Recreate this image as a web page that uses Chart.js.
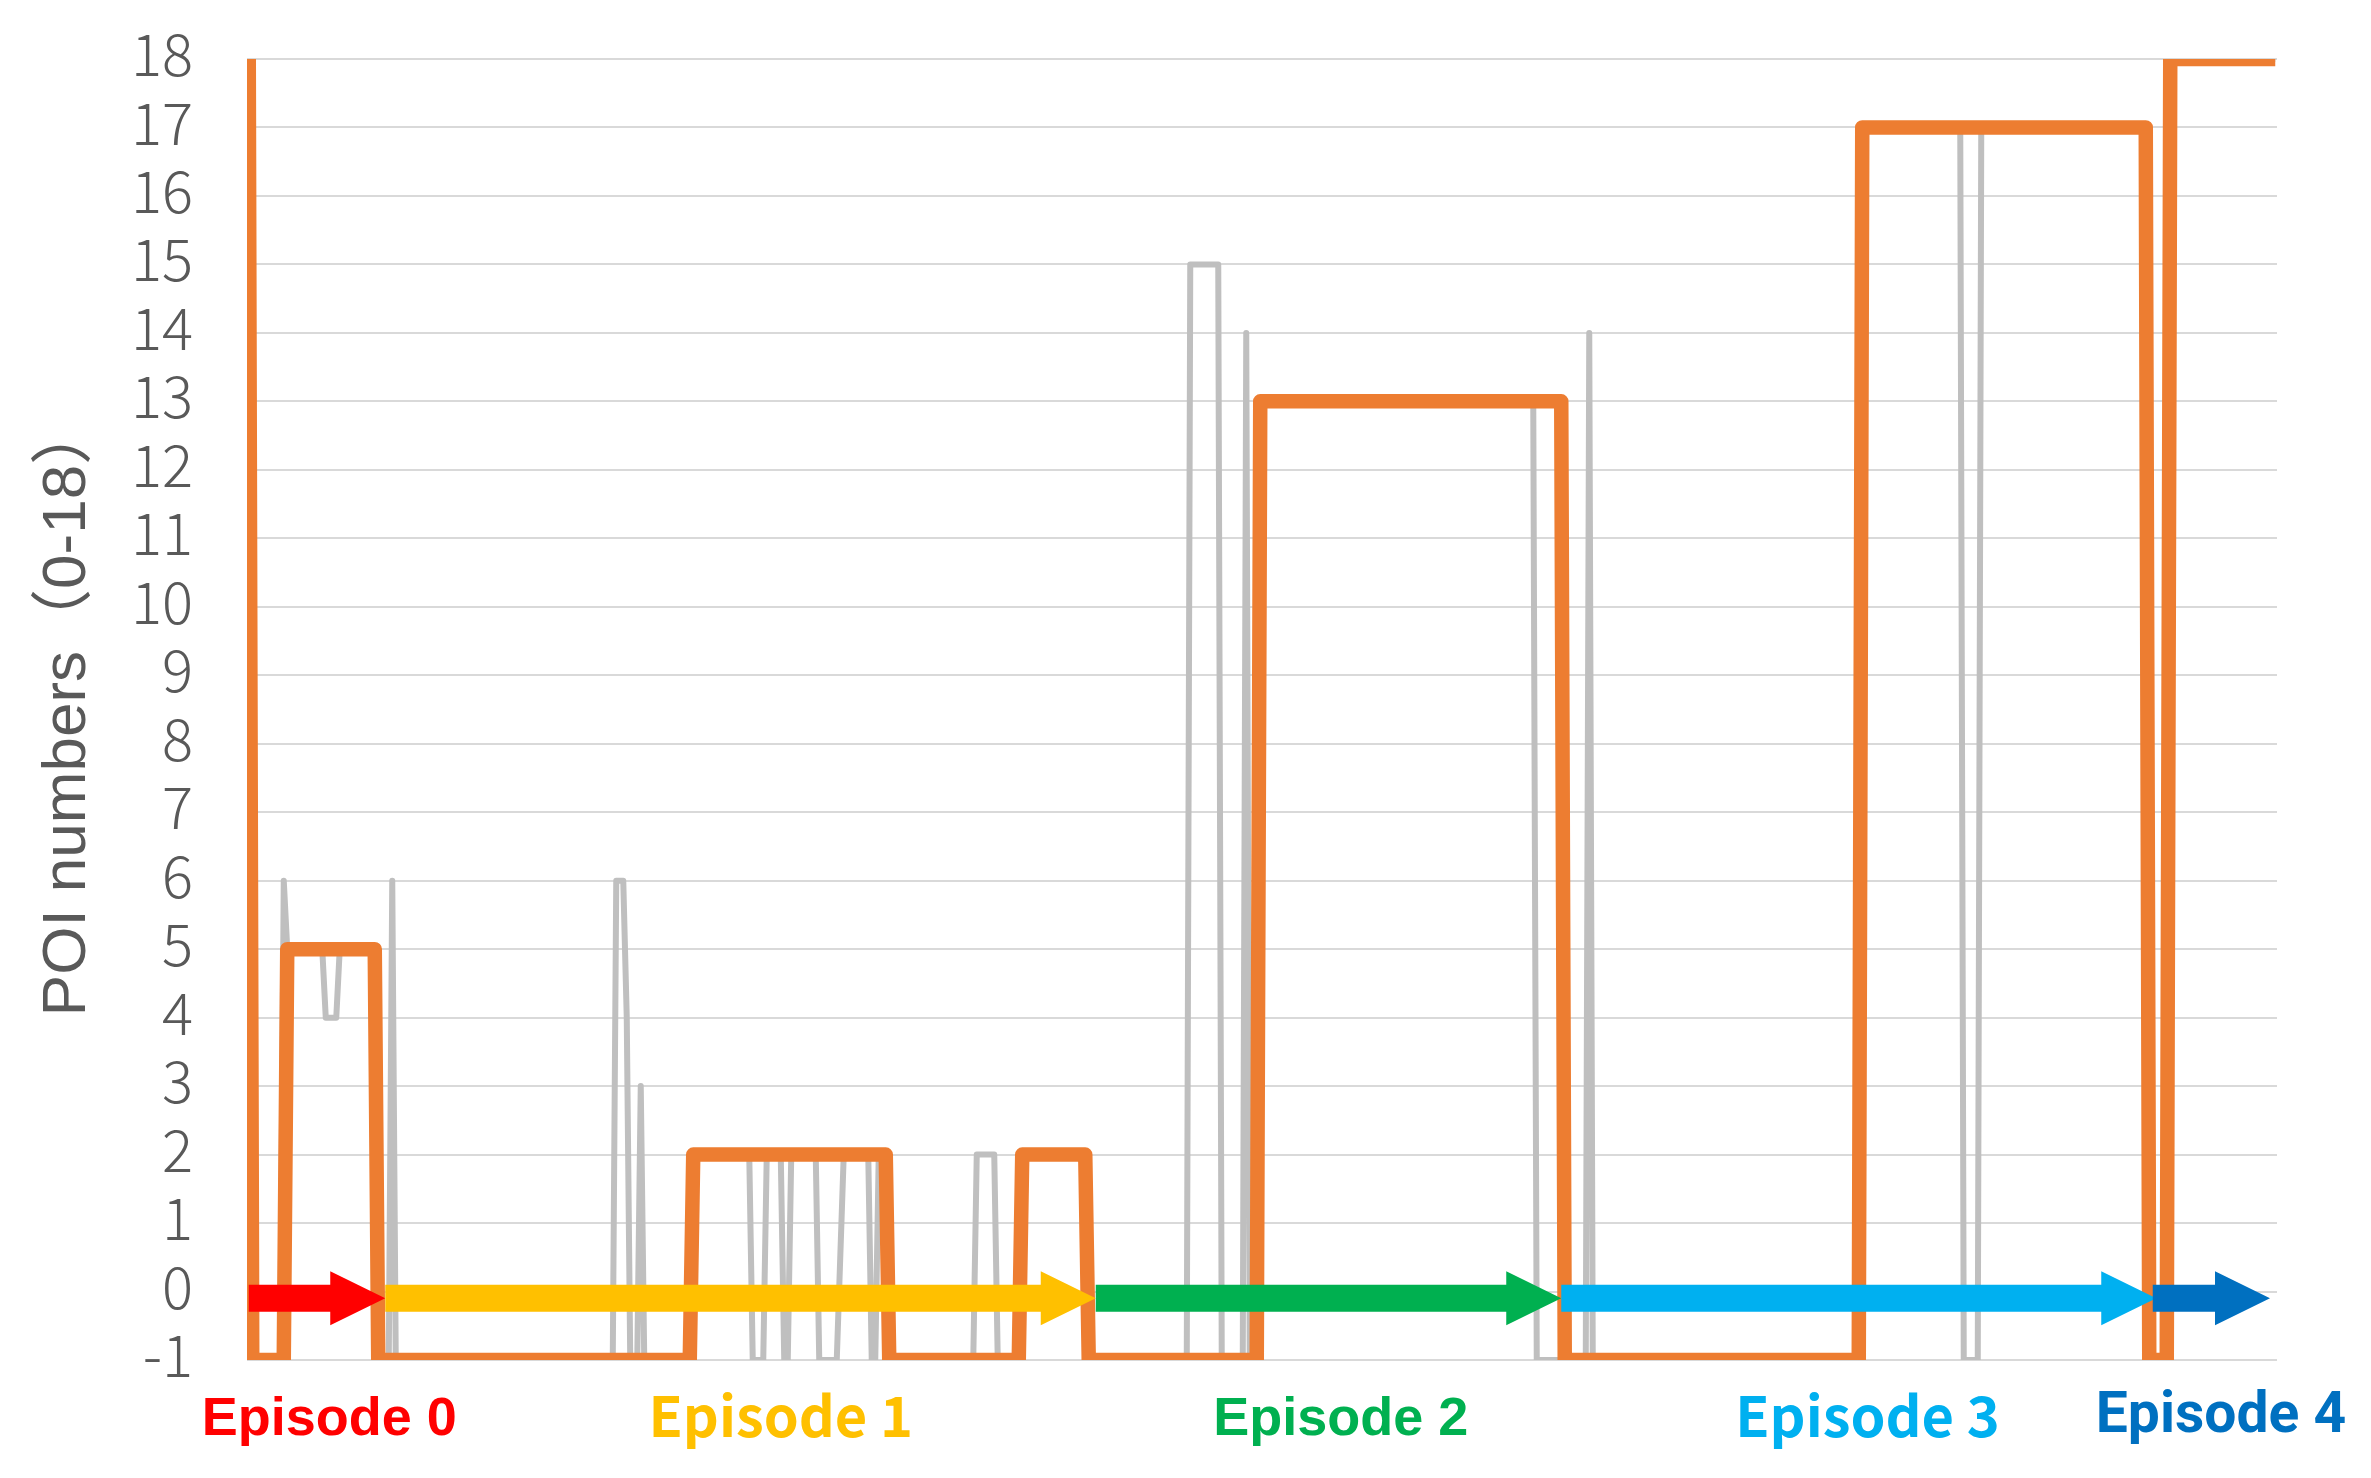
<!DOCTYPE html>
<html>
<head>
<meta charset="utf-8">
<script src="https://cdn.jsdelivr.net/npm/chart.js@4.4.1/dist/chart.umd.min.js"></script>
<style>
  html, body { margin: 0; padding: 0; background: #ffffff; }
  #wrap { width: 2371px; height: 1478px; position: relative; }
</style>
</head>
<body>
<div id="wrap"><canvas id="c"></canvas></div>
<script>
// ---- data (time step index, POI number) ----
const orangeT = [0, 1, 10, 11, 36, 37, 126, 127, 182, 183, 220, 221, 239, 240, 288, 289, 375, 376, 460, 461, 542, 543, 548, 549, 579];
const orangeY = [18, -1, -1, 5, 5, -1, -1, 2, 2, -1, -1, 2, 2, -1, -1, 13, 13, -1, -1, 17, 17, -1, -1, 18, 18];

const grayT = [0, 9, 10, 11, 21, 22, 25, 26, 36, 37, 40, 41, 42, 104, 105, 107, 108, 109, 111, 112, 113,
  126, 127, 143, 144, 147, 148, 152, 153, 154, 155, 162, 163, 168, 170, 177, 178, 179, 180, 182, 183,
  207, 208, 213, 214, 220, 221, 239, 240, 268, 269, 277, 278, 284, 285, 286, 288, 289, 367, 368,
  382, 383, 384, 460, 461, 489, 490, 494, 495, 542, 543, 548, 549, 579];
const grayY = [-1, -1, 6, 5, 5, 4, 4, 5, 5, -1, -1, 6, -1, -1, 6, 6, 4, -1, -1, 3, -1,
  -1, 2, 2, -1, -1, 2, 2, -1, -1, 2, 2, -1, -1, 2, 2, -1, -1, 2, 2, -1,
  -1, 2, 2, -1, -1, 2, 2, -1, -1, 15, 15, -1, -1, 14, -1, -1, 13, 13, -1,
  -1, 14, -1, -1, 17, 17, -1, -1, 17, 17, -1, -1, 18, 18];

const yTicks = [-1, 0, 1, 2, 3, 4, 5, 6, 7, 8, 9, 10, 11, 12, 13, 14, 15, 16, 17, 18];

const episodeNames = ['Episode 0', 'Episode 1', 'Episode 2', 'Episode 3', 'Episode 4'];
const episodeStart = [0, 39, 242, 375, 544];
const episodeEnd = [39, 242, 375, 545, 577.5];
const episodeColors = ['#FF0000', '#FFC000', '#00B050', '#00B0F0', '#0070C0'];

const toPoints = (ts, ys) => ts.map((t, i) => ({ x: t, y: ys[i] }));

const episodePlugin = {
  id: 'episodes',
  afterDatasetsDraw(chart, args, opts) {
    const ctx = chart.ctx, xs = chart.scales.x, ys = chart.scales.y;
    const yc = ys.getPixelForValue(opts.arrowValue);
    ctx.save();
    episodeStart.forEach((s, i) => {
      const x0 = xs.getPixelForValue(s), x1 = xs.getPixelForValue(episodeEnd[i]);
      const hb = x1 - opts.headLength;
      ctx.beginPath();
      ctx.moveTo(x0, yc - opts.shaftHalf);
      ctx.lineTo(hb, yc - opts.shaftHalf);
      ctx.lineTo(hb, yc - opts.headHalf);
      ctx.lineTo(x1, yc);
      ctx.lineTo(hb, yc + opts.headHalf);
      ctx.lineTo(hb, yc + opts.shaftHalf);
      ctx.lineTo(x0, yc + opts.shaftHalf);
      ctx.closePath();
      ctx.fillStyle = episodeColors[i];
      ctx.fill();
    });
    const baseY = chart.chartArea.bottom + opts.labelOffset;
    ctx.textAlign = 'center';
    ctx.textBaseline = 'alphabetic';
    episodeNames.forEach((name, i) => {
      ctx.font = opts.labelFonts[i];
      ctx.fillStyle = episodeColors[i];
      ctx.fillText(name, xs.getPixelForValue(opts.labelX[i]), baseY + opts.labelDy[i]);
    });
    ctx.restore();
  }
};

new Chart(document.getElementById('c'), {
  type: 'line',
  data: {
    datasets: [
      {
        label: 'estimated',
        data: toPoints(orangeT, orangeY),
        borderColor: '#ED7D31',
        borderWidth: 14.5,
        borderJoinStyle: 'round',
        borderCapStyle: 'butt',
        pointRadius: 0,
        tension: 0,
        order: 1
      },
      {
        label: 'observed',
        data: toPoints(grayT, grayY),
        borderColor: '#BFBFBF',
        borderWidth: 6,
        borderJoinStyle: 'round',
        pointRadius: 0,
        tension: 0,
        order: 2
      }
    ]
  },
  options: {
    responsive: true,
    maintainAspectRatio: false,
    devicePixelRatio: 1,
    animation: false,
    events: [],
    layout: { padding: { left: 0, right: 94, top: 59, bottom: 118 } },
    plugins: {
      legend: { display: false },
      tooltip: { enabled: false },
      episodes: {
        arrowValue: -0.1,
        shaftHalf: 13.5,
        headHalf: 27,
        headLength: 55,
        labelOffset: 75,
        labelX: [23, 152, 312, 462.5, 563.5],
        labelDy: [0, 2, 0, 2, -3],
        labelFonts: [
          'bold 54px "Liberation Sans"',
          'bold 56px "Noto Sans CJK JP"',
          'bold 54px "Liberation Sans"',
          'bold 56px "Noto Sans CJK JP"',
          'bold 57px Roboto'
        ]
      }
    },
    scales: {
      x: {
        type: 'linear',
        min: -0.5,
        max: 579.5,
        display: false
      },
      y: {
        type: 'linear',
        min: -1,
        max: 18,
        afterBuildTicks: (scale) => { scale.ticks = yTicks.map(v => ({ value: v })); },
        afterFit: (scale) => { scale.width = 247; scale.paddingTop = 0; scale.paddingBottom = 0; },
        grid: { color: '#D9D9D9', lineWidth: 2, drawTicks: false },
        border: { display: false },
        ticks: {
          color: '#595959',
          padding: 54,
          labelOffset: -5,
          autoSkip: false,
          font: { family: '"Noto Sans CJK JP", "Liberation Sans", sans-serif', size: 58, weight: 300 }
        },
        title: {
          display: true,
          text: 'POI numbers（0-18）',
          color: '#595959',
          padding: { top: 31, bottom: 0 },
          font: { family: '"Liberation Sans", "Noto Sans CJK JP", sans-serif', size: 62 }
        }
      }
    }
  },
  plugins: [episodePlugin]
});
</script>
</body>
</html>
